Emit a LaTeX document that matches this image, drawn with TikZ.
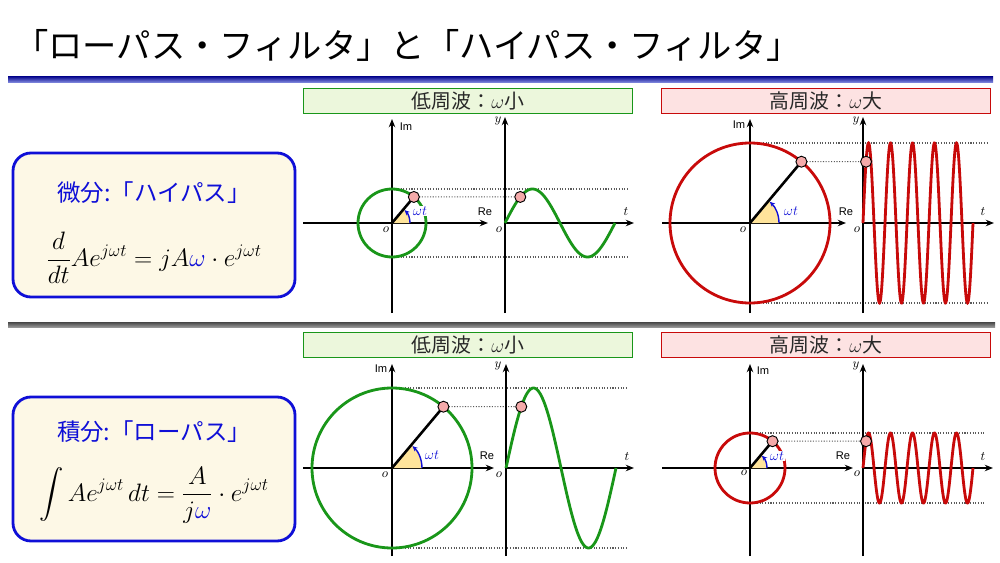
\RequirePackage{fix-cm}
\documentclass[tikz,border=0pt]{standalone}
\usepackage{amsmath}
\usepackage{fontspec}
\newfontfamily\jp{Noto Sans CJK JP}
\newfontfamily\lsans{Liberation Sans}
\usetikzlibrary{arrows.meta}
\definecolor{wgreen}{RGB}{25,150,25}
\definecolor{wred}{RGB}{200,10,10}
\definecolor{hgreen}{RGB}{236,247,220}
\definecolor{hred}{RGB}{253,226,226}
\definecolor{boxblue}{RGB}{15,15,215}
\definecolor{cream}{RGB}{253,248,230}
\definecolor{sectorc}{RGB}{255,228,155}
\definecolor{dotpink}{RGB}{245,170,170}
\definecolor{guidegray}{RGB}{90,90,90}
\definecolor{textgray}{RGB}{40,40,40}
\begin{document}
\begin{tikzpicture}[x=0.03cm,y=-0.03cm,
  axis/.style={line width=1.6pt,-{Stealth[length=7pt,width=5.5pt]}},
  guide/.style={guidegray,line width=0.9pt,dash pattern=on 0.9pt off 1.4pt},
  curve/.style={line width=2.4pt},
  rline/.style={line width=2.2pt,black},
  sectorfill/.style={fill=sectorc},
  omarrow/.style={boxblue,line width=1.2pt,-{Stealth[length=4.5pt,width=4pt]}},
  wlabel/.style={font=\fontsize{12}{12}\selectfont,text=boxblue,fill=white,inner sep=0.6pt},
  pdot/.style={fill=dotpink,draw=black,line width=0.8pt},
  axlab/.style={font=\lsans\fontsize{9.5}{10}\selectfont,inner sep=0pt},
  varlab/.style={font=\fontsize{11}{11}\selectfont,inner sep=0pt},
  hdrg/.style={draw=wgreen,fill=hgreen,line width=1.6pt,minimum width=329*0.03cm,minimum height=25*0.03cm,inner sep=0pt,font=\jp\fontsize{17}{17}\selectfont,text=textgray},
  hdrr/.style={draw=wred,fill=hred,line width=1.6pt,minimum width=329*0.03cm,minimum height=25*0.03cm,inner sep=0pt,font=\jp\fontsize{17}{17}\selectfont,text=textgray},
  fbox/.style={draw=boxblue,fill=cream,line width=2.4pt,rounded corners=18*0.03cm,minimum width=282*0.03cm,minimum height=144*0.03cm},
  ftitle/.style={font=\jp\fontsize{20}{20}\selectfont,text=boxblue,inner sep=0pt},
  formula/.style={font=\fontsize{21.5}{26}\selectfont,inner sep=0pt}
]
\useasboundingbox[fill=white] (0,0) rectangle (1000,563);

% ---------- title and rules ----------
\node[anchor=west,inner sep=0pt,font=\jp\fontsize{29.3}{30}\selectfont] (title) at (14,45) {「ローパス・フィルタ」と「ハイパス・フィルタ」};
\shade[top color={rgb,255:red,20;green,20;blue,150},bottom color={rgb,255:red,140;green,150;blue,230}] (8,77) rectangle (993,83);
\shade[top color={rgb,255:red,70;green,70;blue,70},bottom color={rgb,255:red,150;green,150;blue,150}] (8,322) rectangle (995,327);

% ---------- formula boxes ----------
\node[fbox] (box1) at (154,225) {};
\node[ftitle] (t1) at (154,193) {微分:「ハイパス」};
\node[formula] (f1) at (154,258) {$\displaystyle\frac{d}{dt}Ae^{j\omega t}=jA\textcolor{boxblue}{\omega}\cdot e^{j\omega t}$};
\node[fbox] (box2) at (154,469) {};
\node[ftitle] (t2) at (154,432) {積分:「ローパス」};
\node[formula] (f2) at (154,495) {$\displaystyle\int Ae^{j\omega t}\,dt=\frac{A}{j\textcolor{boxblue}{\omega}}\cdot e^{j\omega t}$};

% ---------- headers ----------
\node[hdrg] (h1) at (468,101) {低周波：$\omega$小};
\node[hdrr] (h2) at (826,101) {高周波：$\omega$大};
\node[hdrg] (h3) at (468,345) {低周波：$\omega$小};
\node[hdrr] (h4) at (826,345) {高周波：$\omega$大};

% ================= panel A : top, low frequency =================
\coordinate (aO) at (392,223);
\coordinate (aIb) at (392,313); \coordinate (aIt) at (392,119);
\coordinate (aRl) at (303,223); \coordinate (aRr) at (488,223);
\coordinate (aY) at (505,223); \coordinate (aYb) at (505,313); \coordinate (aYt) at (505,117);
\coordinate (aTr) at (634,223);
\coordinate (aP) at ([shift={(-50:34)}]aO);
\coordinate (aW) at ({505+110*50/360},{223-34*sin(50)});
\coordinate (aH1) at (398,189); \coordinate (aH2) at (628,189);
\coordinate (aL1) at (398,257); \coordinate (aL2) at (628,257);
\draw[guide] (aH1) -- (aH2);
\draw[guide] (aL1) -- (aL2);
\draw[guide] (aP) -- (aW);
\draw[axis] (aIb) -- (aIt);
\draw[axis] (aRl) -- (aRr);
\draw[axis] (aYb) -- (aYt);
\draw[axis] (aY) -- (aTr);
\draw[wgreen,curve] (aO) circle[radius=34];
\fill[sectorfill] (aO) -- ([shift={(18,0)}]aO) arc[start angle=0,end angle=-50,radius=18] -- cycle;
\draw[rline] (aO) -- (aP);
\draw[omarrow] ([shift={(18,0)}]aO) arc[start angle=0,end angle=-46,radius=18];
\node[wlabel] (aWt) at (420,211) {$\omega t$};
\draw[wgreen,curve] plot[domain=505:615,samples=120,smooth] (\x,{223-34*sin((\x-505)/110*360)});
\draw[pdot] (aP) circle[radius=5.5];
\draw[pdot] (aW) circle[radius=5.5];
\node[axlab] (aIm) at (406,127) {Im};
\node[axlab] (aRe) at (485,212) {Re};
\node[varlab] (ao1) at (386,230) {$o$};
\node[varlab] (ay) at (498,121) {$y$};
\node[varlab] (ao2) at (499,230) {$o$};
\node[varlab] (at) at (626,212) {$t$};

% ================= panel B : top, high frequency =================
\coordinate (bO) at (750,223);
\coordinate (bIb) at (750,313); \coordinate (bIt) at (750,119);
\coordinate (bRl) at (662,223); \coordinate (bRr) at (846,223);
\coordinate (bY) at (863,223); \coordinate (bYb) at (863,313); \coordinate (bYt) at (863,117);
\coordinate (bTr) at (994,223);
\coordinate (bP) at ([shift={(-50:80)}]bO);
\coordinate (bW) at ({863+22*50/360},{223-80*sin(50)});
\coordinate (bH1) at (763,143); \coordinate (bH2) at (987,143);
\coordinate (bL1) at (763,303); \coordinate (bL2) at (987,303);
\draw[guide] (bH1) -- (bH2);
\draw[guide] (bL1) -- (bL2);
\draw[guide] (bP) -- (bW);
\draw[axis] (bIb) -- (bIt);
\draw[axis] (bRl) -- (bRr);
\draw[axis] (bYb) -- (bYt);
\draw[axis] (bY) -- (bTr);
\draw[wred,curve] (bO) circle[radius=80];
\fill[sectorfill] (bO) -- ([shift={(29,0)}]bO) arc[start angle=0,end angle=-50,radius=29] -- cycle;
\draw[rline] (bO) -- (bP);
\draw[omarrow] ([shift={(29,0)}]bO) arc[start angle=0,end angle=-47,radius=29];
\node[wlabel] (bWt) at (791,211) {$\omega t$};
\draw[wred,curve] plot[domain=863:973,samples=400,smooth] (\x,{223-80*sin((\x-863)/22*360)});
\draw[pdot] (bP) circle[radius=5.5];
\draw[pdot] (bW) circle[radius=5.5];
\node[axlab] (bIm) at (739,125) {Im};
\node[axlab] (bRe) at (846,212) {Re};
\node[varlab] (bo1) at (743,230) {$o$};
\node[varlab] (by) at (856,121) {$y$};
\node[varlab] (bo2) at (857,230) {$o$};
\node[varlab] (bt) at (983,212) {$t$};

% ================= panel C : bottom, low frequency =================
\coordinate (cO) at (392,468);
\coordinate (cIb) at (392,556); \coordinate (cIt) at (392,364);
\coordinate (cRl) at (303,468); \coordinate (cRr) at (494,468);
\coordinate (cY) at (506,468); \coordinate (cYb) at (506,556); \coordinate (cYt) at (506,364);
\coordinate (cTr) at (634,468);
\coordinate (cP) at ([shift={(-50:80)}]cO);
\coordinate (cW) at ({506+110*50/360},{468-80*sin(50)});
\coordinate (cH1) at (405,388); \coordinate (cH2) at (628,388);
\coordinate (cL1) at (405,548); \coordinate (cL2) at (628,548);
\draw[guide] (cH1) -- (cH2);
\draw[guide] (cL1) -- (cL2);
\draw[guide] (cP) -- (cW);
\draw[axis] (cIb) -- (cIt);
\draw[axis] (cRl) -- (cRr);
\draw[axis] (cYb) -- (cYt);
\draw[axis] (cY) -- (cTr);
\draw[wgreen,curve] (cO) circle[radius=80];
\fill[sectorfill] (cO) -- ([shift={(30,0)}]cO) arc[start angle=0,end angle=-50,radius=30] -- cycle;
\draw[rline] (cO) -- (cP);
\draw[omarrow] ([shift={(30,0)}]cO) arc[start angle=0,end angle=-47,radius=30];
\node[wlabel] (cWt) at (432,455) {$\omega t$};
\draw[wgreen,curve] plot[domain=506:616,samples=120,smooth] (\x,{468-80*sin((\x-506)/110*360)});
\draw[pdot] (cP) circle[radius=5.5];
\draw[pdot] (cW) circle[radius=5.5];
\node[axlab] (cIm) at (381,369) {Im};
\node[axlab] (cRe) at (487,456) {Re};
\node[varlab] (co1) at (385,475) {$o$};
\node[varlab] (cy) at (498,366) {$y$};
\node[varlab] (co2) at (499,475) {$o$};
\node[varlab] (ct) at (627,457) {$t$};

% ================= panel D : bottom, high frequency =================
\coordinate (dO) at (750,468);
\coordinate (dIb) at (750,556); \coordinate (dIt) at (750,364);
\coordinate (dRl) at (662,468); \coordinate (dRr) at (853,468);
\coordinate (dY) at (863,468); \coordinate (dYb) at (863,556); \coordinate (dYt) at (863,364);
\coordinate (dTr) at (993,468);
\coordinate (dP) at ([shift={(-50:35)}]dO);
\coordinate (dW) at ({863+22*50/360},{468-35*sin(50)});
\coordinate (dH1) at (757,433); \coordinate (dH2) at (985,433);
\coordinate (dL1) at (757,503); \coordinate (dL2) at (985,503);
\draw[guide] (dH1) -- (dH2);
\draw[guide] (dL1) -- (dL2);
\draw[guide] (dP) -- (dW);
\draw[axis] (dIb) -- (dIt);
\draw[axis] (dRl) -- (dRr);
\draw[axis] (dYb) -- (dYt);
\draw[axis] (dY) -- (dTr);
\draw[wred,curve] (dO) circle[radius=35];
\fill[sectorfill] (dO) -- ([shift={(17,0)}]dO) arc[start angle=0,end angle=-50,radius=17] -- cycle;
\draw[rline] (dO) -- (dP);
\draw[omarrow] ([shift={(17,0)}]dO) arc[start angle=0,end angle=-46,radius=17];
\node[wlabel] (dWt) at (777,456) {$\omega t$};
\draw[wred,curve] plot[domain=863:973,samples=400,smooth] (\x,{468-35*sin((\x-863)/22*360)});
\draw[pdot] (dP) circle[radius=5.5];
\draw[pdot] (dW) circle[radius=5.5];
\node[axlab] (dIm) at (763,371) {Im};
\node[axlab] (dRe) at (843,456) {Re};
\node[varlab] (do1) at (744,473) {$o$};
\node[varlab] (dy) at (856,366) {$y$};
\node[varlab] (do2) at (857,474) {$o$};
\node[varlab] (dt) at (983,457) {$t$};
\end{tikzpicture}
\end{document}
